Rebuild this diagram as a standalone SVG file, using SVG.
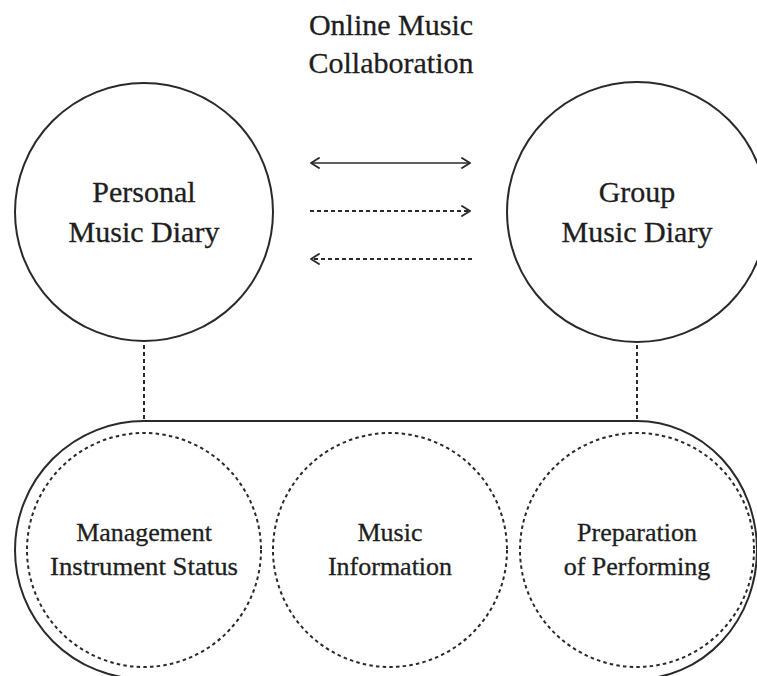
<svg xmlns="http://www.w3.org/2000/svg" width="757" height="676" viewBox="0 0 757 676">
  <style>
    .bg { fill: #ffffff; }
    .solid { fill: none; stroke: #2a2a2a; stroke-width: 2; }
    .dash { fill: none; stroke: #2a2a2a; stroke-width: 2; stroke-dasharray: 4 3; }
    .dot { fill: none; stroke: #2a2a2a; stroke-width: 2; stroke-dasharray: 3.5 3.2; }
    .arrow { fill: none; stroke: #2a2a2a; stroke-width: 1.7; }
    .arrow-d { fill: none; stroke: #2a2a2a; stroke-width: 1.8; stroke-dasharray: 4 3; }
    text { font-family: 'Liberation Serif', 'Times New Roman', serif; fill: #1e1e1e; stroke: #1e1e1e; stroke-width: 0.3; text-anchor: middle; }
    .t-big { font-size: 30px; }
    .t-small { font-size: 26px; }
  </style>
  <defs>
    <marker id="chev" viewBox="0 0 10 12" refX="9" refY="6" markerWidth="10" markerHeight="12" markerUnits="userSpaceOnUse" orient="auto-start-reverse">
      <path d="M1,1 L9,6 L1,11" fill="none" stroke="#2a2a2a" stroke-width="1.9" stroke-linecap="round" stroke-linejoin="round"/>
    </marker>
  </defs>

  <rect class="bg" x="0" y="0" width="757" height="676"/>

  <!-- heading -->
  <g id="title">
    <text class="t-big" x="391" y="35">Online Music</text>
    <text class="t-big" x="391" y="73">Collaboration</text>
  </g>

  <!-- diaries -->
  <g id="personal-diary">
    <circle class="solid" cx="144" cy="212" r="129"/>
    <text class="t-big" x="144" y="202">Personal</text>
    <text class="t-big" x="144" y="242">Music Diary</text>
  </g>

  <g id="group-diary">
    <circle class="solid" cx="637" cy="212" r="130"/>
    <text class="t-big" x="637" y="202">Group</text>
    <text class="t-big" x="637" y="242">Music Diary</text>
  </g>

  <!-- shared container -->
  <g id="container">
    <path class="solid" d="M144,421 H637 A120,129 0 0 1 757,550 A120,129 0 0 1 637,679 H144 A129,129 0 0 1 144,421 Z"/>
  </g>

  <g id="management">
    <circle class="dot" cx="144" cy="550" r="117"/>
    <text class="t-small" x="144" y="541">Management</text>
    <text class="t-small" x="144" y="575" textLength="188" lengthAdjust="spacingAndGlyphs">Instrument Status</text>
  </g>

  <g id="music-info">
    <circle class="dot" cx="390" cy="550" r="117"/>
    <text class="t-small" x="390" y="541">Music</text>
    <text class="t-small" x="390" y="575">Information</text>
  </g>

  <g id="preparation">
    <circle class="dot" cx="637" cy="550" r="117"/>
    <text class="t-small" x="637" y="541">Preparation</text>
    <text class="t-small" x="637" y="575">of Performing</text>
  </g>

  <!-- connectors -->
  <g id="connectors">
    <line class="arrow" x1="311" y1="163" x2="470" y2="163" marker-start="url(#chev)" marker-end="url(#chev)"/>
    <line class="arrow-d" x1="310" y1="211" x2="470" y2="211" marker-end="url(#chev)"/>
    <line class="arrow-d" x1="472" y1="259" x2="311" y2="259" marker-end="url(#chev)"/>
    <line class="dash" x1="144" y1="345" x2="144" y2="420"/>
    <line class="dash" x1="637" y1="345" x2="637" y2="420"/>
  </g>
</svg>
